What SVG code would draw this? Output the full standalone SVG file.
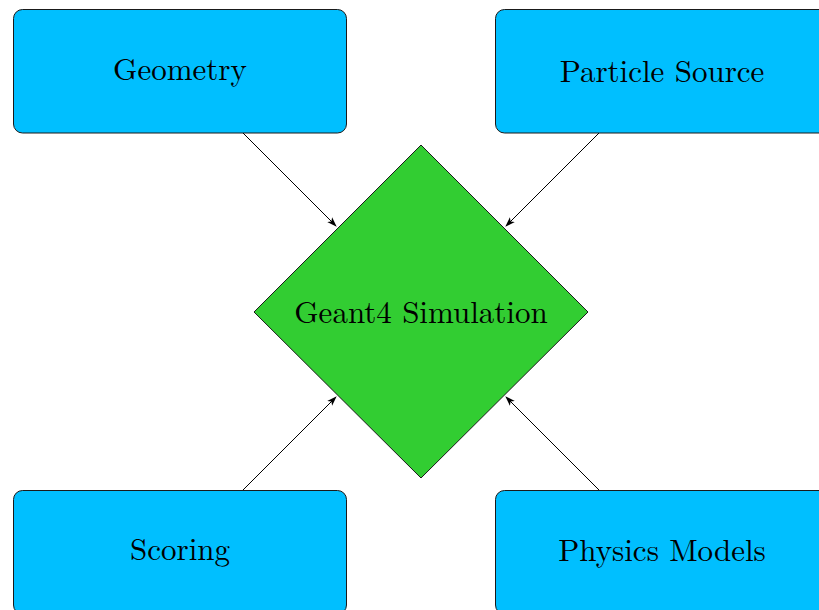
<svg xmlns="http://www.w3.org/2000/svg" width="819" height="610" viewBox="0 0 819 610">
<style>
.box{fill:#00BFFF;stroke:#1a1a1a;stroke-width:1}
.dia{fill:#32CD32;stroke:#1a1a1a;stroke-width:1}
.lbl{font-family:"Latin Modern Roman","Liberation Serif",serif;font-size:31px;fill:#000;text-anchor:middle}
.edge{stroke:#000;stroke-width:1;fill:none;marker-end:url(#arr)}
</style>
<defs>
<marker id="arr" viewBox="0 0 10 10" refX="9" refY="5" markerWidth="10" markerHeight="10" markerUnits="userSpaceOnUse" orient="auto">
<path d="M0,1.5 L10,5 L0,8.5 L2.5,5 Z" fill="#000"/>
</marker>
</defs>
<rect width="819" height="610" fill="#fff"/>
<g id="geometry"><rect class="box" x="13.5" y="9.5" width="333" height="123.5" rx="9"/><text class="lbl" x="180" y="80">Geometry</text></g>
<g id="particle-source"><rect class="box" x="495.5" y="9.5" width="333" height="123.5" rx="9"/><text class="lbl" x="662" y="82">Particle Source</text></g>
<g id="scoring"><rect class="box" x="13.5" y="490.5" width="333" height="123.5" rx="9"/><text class="lbl" x="180" y="560">Scoring</text></g>
<g id="physics-models"><rect class="box" x="495.5" y="490.5" width="333" height="123.5" rx="9"/><text class="lbl" x="662" y="561">Physics Models</text></g>
<g id="geant4"><polygon class="dia" points="421,145 588,312 421,478 254,312"/><text class="lbl" x="421" y="323">Geant4 Simulation</text></g>
<g id="connectors">
<line class="edge" x1="243" y1="133" x2="336" y2="226"/>
<line class="edge" x1="599" y1="133" x2="506" y2="226"/>
<line class="edge" x1="243" y1="490" x2="336" y2="397"/>
<line class="edge" x1="599" y1="490" x2="506" y2="397"/>
</g>
</svg>
